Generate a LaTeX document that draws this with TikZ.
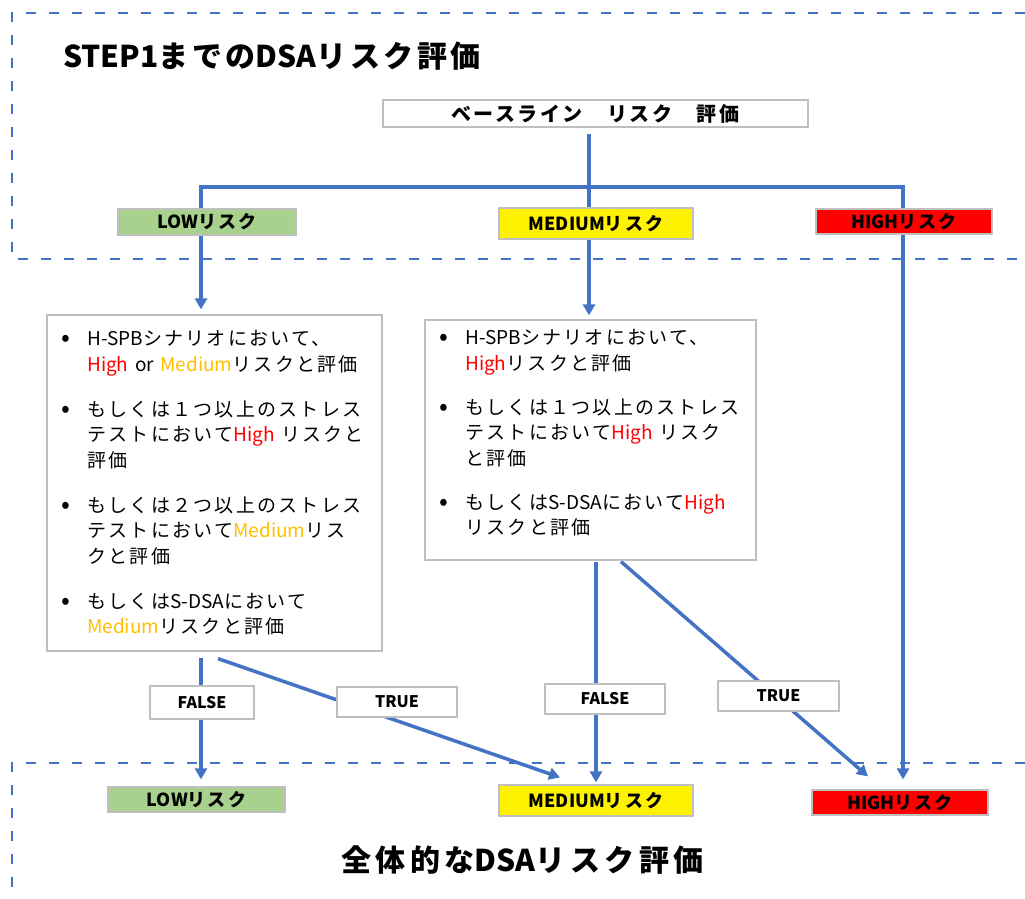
\documentclass[tikz,border=0pt]{standalone}
\usepackage{fontspec}
\setmainfont{Noto Sans CJK JP}[LetterSpace=12]
\newfontfamily\lat{Noto Sans CJK JP}
\usetikzlibrary{arrows.meta}
\pgfdeclarelayer{bg}
\pgfsetlayers{bg,main}
\definecolor{lineblue}{HTML}{4472C4}
\definecolor{boxgray}{HTML}{BFBFBF}
\definecolor{lowgreen}{HTML}{A9D18E}
\definecolor{hired}{HTML}{FF0000}
\definecolor{medgold}{HTML}{FFC000}
\newcommand{\hi}[1]{{\lat\color{hired}#1}}
\newcommand{\md}[1]{{\lat\color{medgold}#1}}
\newcommand{\la}[1]{{\lat #1}}
\newcommand{\bul}{\makebox[25pt][l]{\hspace{-1pt}{\lat\fontsize{26}{26}\selectfont\raisebox{-1pt}{•}}}}
\tikzset{
 conn/.style={draw=lineblue, line width=3.5pt, line cap=rect},
 arr/.style={draw=lineblue, line width=3.5pt, -{Triangle[length=11pt,width=12pt]}},
 frame/.style={draw=lineblue, line width=2.8pt, dash pattern=on 10pt off 13pt},
 riskbox/.style={draw=boxgray, line width=1.2pt, inner sep=0pt, font=\fontsize{18}{21}\selectfont\bfseries},
 lblbox/.style={draw=boxgray, fill=white, line width=1.2pt, inner sep=0pt, font=\fontsize{16}{19}\selectfont\bfseries},
 textbox/.style={draw=boxgray, line width=1.2pt, fill=white, inner sep=0pt},
 bodytext/.style={inner sep=0pt, anchor=north west, font=\fontsize{19}{25.5}\selectfont},
 titletext/.style={inner sep=0pt, font=\fontsize{30}{36}\selectfont\bfseries},
}
\begin{document}
\begin{tikzpicture}[x=1pt, y=-1pt]
\useasboundingbox (0,0) rectangle (1025,898);
% dashed regions
\draw[frame] (1025,13) -- (12,13) -- (12,259) -- (1025,259);
\draw[frame] (1025,763) -- (12,763) -- (12,898);
% titles
\node[titletext] (title1) at (272,56) {\la{STEP1}までの\la{DSA}リスク評価};
\node[titletext, font=\fontsize{30}{36}\selectfont\bfseries\addfontfeatures{LetterSpace=15}] (title2) at (522.5,860) {全体的な\la{DSA}リスク評価};
% top nodes
\node[riskbox, fill=white, font=\fontsize{20}{24}\selectfont\bfseries, minimum width=425pt, minimum height=27pt] (base) at (595.5,113.5) {ベースライン　リスク　評価};
\node[riskbox, fill=lowgreen, minimum width=178pt, minimum height=26pt] (low1) at (207,222) {\la{LOW}リスク};
\node[riskbox, fill=yellow, minimum width=194pt, minimum height=31pt] (med1) at (596,223.5) {\la{MEDIUM}リスク};
\node[riskbox, fill=hired, minimum width=176pt, minimum height=25pt] (high1) at (904,221.5) {\la{HIGH}リスク};
% condition boxes
\node[textbox, minimum width=335pt, minimum height=336pt] (box1) at (214.5,483) {};
\node[textbox, minimum width=331pt, minimum height=240pt] (box2) at (590.5,440) {};
\node[bodytext] (txt1) at (62,327.6) {\begin{tabular}{@{}l@{}l@{}}
\bul & \la{H-SPB}シナリオにおいて、\\
 & \hi{High} \la{or} \md{Medium}リスクと評価\\[19.5pt]
\bul & もしくは１つ以上のストレス\\
 & テストにおいて\hi{High} リスクと\\
 & 評価\\[19.5pt]
\bul & もしくは２つ以上のストレス\\
 & テストにおいて\md{Medium}リス\\
 & クと評価\\[19.5pt]
\bul & もしくは\la{S-DSA}において\\
 & \md{Medium}リスクと評価
\end{tabular}};
\node[bodytext] (txt2) at (440,326.7) {\begin{tabular}{@{}l@{}l@{}}
\bul & \la{H-SPB}シナリオにおいて、\\
 & \hi{High}リスクと評価\\[18.5pt]
\bul & もしくは１つ以上のストレス\\
 & テストにおいて\hi{High} リスク\\
 & と評価\\[18.5pt]
\bul & もしくは\la{S-DSA}において\hi{High}\\
 & リスクと評価
\end{tabular}};
% bottom nodes
\node[riskbox, fill=lowgreen, minimum width=177pt, minimum height=25pt] (low2) at (196.5,799.5) {\la{LOW}リスク};
\node[riskbox, fill=yellow, minimum width=194pt, minimum height=31pt] (med2) at (596,800.5) {\la{MEDIUM}リスク};
\node[riskbox, fill=hired, minimum width=176pt, minimum height=25pt] (high2) at (900,802.5) {\la{HIGH}リスク};
% branch labels
\node[lblbox, minimum width=104pt, minimum height=33pt] (f1) at (202,702.5) {\la{FALSE}};
\node[lblbox, minimum width=120pt, minimum height=30pt] (t1) at (397,702) {\la{TRUE}};
\node[lblbox, minimum width=120pt, minimum height=30pt] (f2) at (605,699) {\la{FALSE}};
\node[lblbox, minimum width=121pt, minimum height=30pt] (t2) at (778.5,696) {\la{TRUE}};
% connectors
\begin{pgfonlayer}{bg}
\coordinate (j) at (589,187);
\coordinate (jl) at (201,187);
\coordinate (jr) at (903,187);
\draw[conn] ([xshift=-6.5pt,yshift=-8pt]base.south) -- (j);
\draw[conn] (jl) -- (jr);
\draw[arr, shorten >=5pt] (jl) -- (jl |- box1.north);
\draw[arr, shorten >=4pt] (j) -- (j |- box2.north);
\draw[arr, shorten >=10pt] (jr) -- (jr |- high2.north);
\draw[arr, shorten >=7pt] ([yshift=-6pt]box1.south -| jl) -- (jl |- low2.north);
\draw[arr] ([xshift=3.5pt,yshift=-7pt]box1.south) -- ([xshift=-36pt,yshift=7pt]med2.north);
\draw[arr, shorten >=2pt] ([yshift=-1pt]box2.south -| med2.north) -- (med2.north);
\draw[arr] ([xshift=30.5pt,yshift=-1pt]box2.south) -- ([xshift=-32pt,yshift=13pt]high2.north);
\end{pgfonlayer}
\end{tikzpicture}
\end{document}
